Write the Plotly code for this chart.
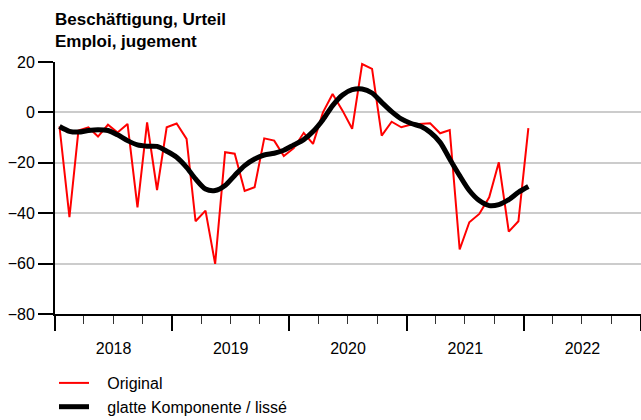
import pandas as pd
import plotly.graph_objects as go

# Monthly data, Jan 2018 .. Jan 2022
start_month = "2018-01"
original = [
    -5.6, -41.6, -7.2, -5.9, -9.6, -4.9, -8.0, -4.6, -37.7, -4.0, -30.8, -5.9,
    -4.4, -10.5, -43.2, -39.0, -60.1, -15.8, -16.4, -31.2, -29.7, -10.3, -11.2, -17.3,
    -14.2, -8.1, -12.5, 0.0, 7.3, 0.7, -6.5, 19.2, 17.3, -9.2, -3.7, -5.9,
    -4.8, -4.6, -4.3, -8.3, -7.0, -54.4, -43.6, -40.3, -33.7, -19.8, -47.3, -43.2,
    -6.2,
]
smooth = [
    -5.6, -7.5, -7.8, -7.2, -6.9, -7.2, -8.9, -11.2, -12.9, -13.4, -13.5, -15.4,
    -17.8, -21.8, -26.4, -30.4, -31.0, -29.0, -25.0, -21.1, -18.5, -16.9, -16.2, -15.0,
    -12.9, -10.8, -7.6, -2.9, 2.7, 6.9, 9.0, 9.3, 7.7, 4.0, 0.3, -2.6,
    -4.4, -5.6, -7.9, -11.9, -18.5, -25.1, -31.0, -35.0, -37.0, -36.6, -34.6, -31.7,
    -29.4,
]
series_names = ["Original", "glatte Komponente / lissé"]
title_lines = ["Beschäftigung, Urteil", "Emploi, jugement"]
y_ticks = [20, 0, -20, -40, -60, -80]

dates = pd.date_range(start_month, periods=len(original), freq="MS") + pd.Timedelta(days=14)

FONT = "Liberation Sans, Arial, sans-serif"
W, H = 641, 420
ML, MR, MT, MB = 55, 0, 62, 106
PH = H - MT - MB
PAD = "\u00a0\u00a0\u00a0"  # gap between legend line sample and its label

fig = go.Figure()
fig.add_trace(go.Scatter(
    x=dates, y=original, mode="lines", name=PAD + series_names[0],
    line=dict(color="#ff0000", width=2),
))
fig.add_trace(go.Scatter(
    x=dates, y=smooth, mode="lines", name=PAD + series_names[1],
    line=dict(color="#000000", width=5, shape="spline", smoothing=0.8),
))

fig.add_annotation(
    text="<b>" + "<br>".join(title_lines) + "</b>",
    xref="paper", yref="paper",
    x=0, xanchor="left", xshift=-2,
    y=1 + (MT - 8) / PH, yanchor="top",
    align="left", showarrow=False,
    font=dict(family=FONT, size=17, color="black"),
)

fig.update_layout(
    width=W, height=H,
    margin=dict(l=ML, r=MR, t=MT, b=MB, autoexpand=False),
    paper_bgcolor="white", plot_bgcolor="white",
    font=dict(family=FONT, size=16, color="black"),
    showlegend=True,
    legend=dict(
        xref="container", yref="container",
        x=54 / W, xanchor="left", y=1 - 366 / H, yanchor="top",
        bgcolor="rgba(0,0,0,0)", borderwidth=0,
        font=dict(family=FONT, size=16, color="black"),
        tracegroupgap=0, itemwidth=30,
    ),
)

fig.update_xaxes(
    type="date", automargin=False,
    range=["2018-01-01", "2023-01-01"],
    dtick="M12", tick0="2018-01-01",
    ticklabelmode="period", tickformat="%Y",
    ticks="outside", ticklen=15, tickwidth=1.5, tickcolor="black",
    ticklabelstandoff=4,
    minor=dict(dtick="M3", ticks="outside", ticklen=8, tickwidth=1, tickcolor="#333333", showgrid=False),
    showgrid=False, zeroline=False,
    showline=True, linecolor="black", linewidth=2,
    tickfont=dict(family=FONT, size=16, color="black"),
)
fig.update_yaxes(
    automargin=False,
    range=[-80, 20],
    tickvals=y_ticks,
    ticks="outside", ticklen=15, tickwidth=1.5, tickcolor="black",
    showgrid=True, gridcolor="#cccccc", gridwidth=1.5,
    zeroline=False,
    showline=True, linecolor="black", linewidth=2,
    tickfont=dict(family=FONT, size=16, color="black"),
)

fig.write_html(
    "out.html",
    config={"displayModeBar": False},
    post_script="document.body.style.margin='0';document.body.style.overflow='hidden';",
)
